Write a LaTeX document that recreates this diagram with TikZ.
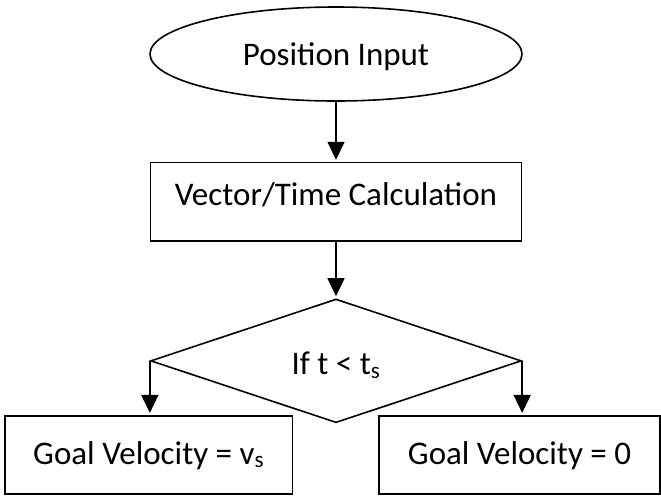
\documentclass[tikz,border=0pt]{standalone}
\usepackage{fontspec}
\setmainfont{Carlito}
\usetikzlibrary{shapes.geometric,arrows.meta}
\begin{document}
\begin{tikzpicture}[x=1pt,y=-1pt,
  every node/.style={font=\fontsize{33}{40}\selectfont, inner sep=0pt, line width=1.6pt},
  startbox/.style={draw, ellipse, minimum width=372pt, minimum height=94pt, text height=22pt, text depth=0pt},
  procbox/.style={draw, rectangle, minimum height=78.5pt},
  decbox/.style={draw, diamond, minimum width=370.7pt, minimum height=123.7pt, text height=26.9pt, text depth=0pt},
  arr/.style={line width=1.6pt, -{Triangle[width=17pt,length=18pt]}, shorten >=2pt}
]
\useasboundingbox (0,0) rectangle (661,496);
\node[startbox] (inp) at (336,54) {Position Input};
\node[procbox, minimum width=370.7pt, text height=22pt, text depth=14pt] (vt) at (336,201.85) {Vector/Time Calculation};
\node[decbox] (dec) at (336,360.85) {If t < t\textsubscript{s}};
\node[procbox, minimum width=287.3pt, text height=22pt, text depth=4pt] (gl) at (148.65,455) {Goal Velocity = v\textsubscript{s}};
\node[procbox, minimum width=281pt, text height=22pt, text depth=4pt] (gr) at (519.5,455) {Goal Velocity = 0};
\draw[arr] (inp.south) -- (vt.north);
\draw[arr] (vt.south) -- (dec.north);
\draw[arr] (dec.west) -- (dec.west |- gl.north);
\draw[arr] (dec.east) -- (dec.east |- gr.north);
\end{tikzpicture}
\end{document}
